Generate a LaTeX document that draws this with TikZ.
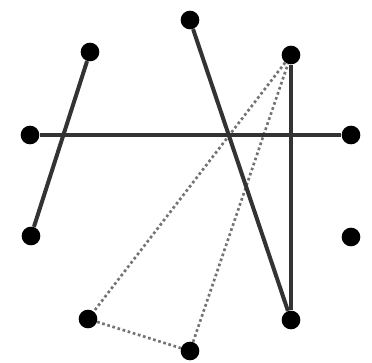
\documentclass[tikz,border=0pt]{standalone}
\usetikzlibrary{positioning}

\tikzset{
  vertex/.style={circle, fill=black, inner sep=0pt, minimum size=14pt},
  edge/.style={draw=black!80, line width=3pt},
  ghost/.style={draw=black!55, line width=2pt, dotted},
}

\begin{document}
\begin{tikzpicture}[x=0.75pt, y=-0.75pt]
  \useasboundingbox (0, 0) rectangle (372, 363);

  \node[vertex] (a) at (190, 20) {};
  \node[vertex] (b) at (90, 52) {};
  \node[vertex] (c) at (291, 55) {};
  \node[vertex] (d) at (30, 135) {};
  \node[vertex] (e) at (351, 135) {};
  \node[vertex] (f) at (31, 236) {};
  \node[vertex] (g) at (351, 237) {};
  \node[vertex] (h) at (88, 319) {};
  \node[vertex] (i) at (190, 351) {};
  \node[vertex] (j) at (291, 320) {};

  \draw[ghost] (c) -- (h) -- (i) -- (c);

  \draw[edge] (b) -- (f);
  \draw[edge] (d) -- (e);
  \draw[edge] (a) -- (j);
  \draw[edge] (c) -- (j);
\end{tikzpicture}
\end{document}
